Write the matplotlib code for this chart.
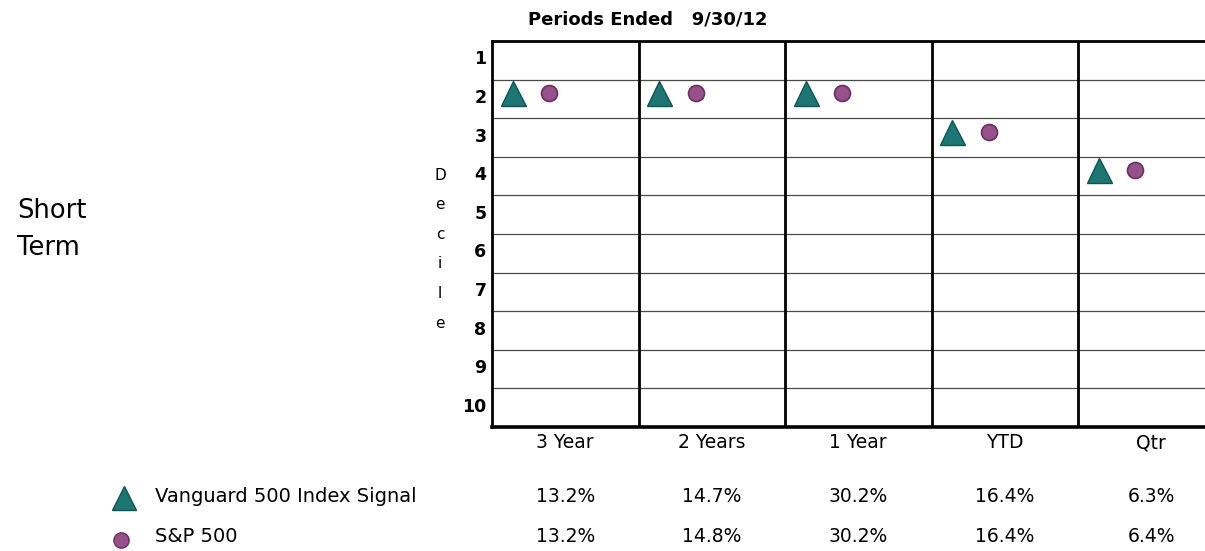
import numpy as np
import matplotlib
matplotlib.use("Agg")
import matplotlib.pyplot as plt
from matplotlib.transforms import blended_transform_factory, ScaledTranslation

# datos
periods = ["3 Year", "2 Years", "1 Year", "YTD", "Qtr"]
fund_decile = [2, 2, 2, 3, 4]
sp_decile = [2, 2, 2, 3, 4]
fund_returns = ["13.2%", "14.7%", "30.2%", "16.4%", "6.3%"]
sp_returns = ["13.2%", "14.8%", "30.2%", "16.4%", "6.4%"]
deciles = list(range(1, 11))
fund_name = "Vanguard 500 Index Signal"
bench_name = "S&P 500"

TEAL = "#1d7673"
TEAL_EDGE = "#105451"
PURPLE = "#96508a"
PURPLE_EDGE = "#6a2f60"

W, H = 1205, 551
fig = plt.figure(figsize=(W / 100, H / 100), dpi=100)

# eje en pixeles
left, right, top, bottom = 492, 1205, 41, 427
ax = fig.add_axes([left / W, 1 - bottom / H, (right - left) / W, (bottom - top) / H])

col_w = 146.5
ax.set_xlim(0, (right - left) / col_w)
ax.set_ylim(10.5, 0.5)

# los simbolos van un poco por encima del centro de la fila
lift = ScaledTranslation(0, 6 / 100, fig.dpi_scale_trans)
x = np.arange(len(periods))
ax.plot(x + 0.14, fund_decile, linestyle="none", marker="^", markersize=18,
        markerfacecolor=TEAL, markeredgecolor=TEAL_EDGE, markeredgewidth=1,
        zorder=5, transform=ax.transData + lift)
ax.plot(x + 0.39, sp_decile, linestyle="none", marker="o", markersize=11.5,
        markerfacecolor=PURPLE, markeredgecolor=PURPLE_EDGE, markeredgewidth=1.2,
        zorder=5, transform=ax.transData + lift)

# lineas de la cuadricula
for yb in np.arange(1.5, 10.5, 1.0):
    ax.axhline(yb, color="#4a4a4a", lw=0.9, zorder=1)
for xb in range(1, len(periods)):
    ax.axvline(xb, color="black", lw=2, zorder=2)

ax.spines["right"].set_visible(False)
for s in ("top", "left"):
    ax.spines[s].set_linewidth(2)
ax.spines["bottom"].set_linewidth(2.6)

ax.set_yticks(deciles)
ax.set_yticklabels([str(d) for d in deciles], fontsize=12.5, fontweight="bold")
ax.tick_params(axis="y", length=0, pad=4)
for lab in ax.get_yticklabels():
    lab.set_transform(lab.get_transform() + ScaledTranslation(0, 3 / 100, fig.dpi_scale_trans))
ax.set_xticks([])

# titulo
fig.text(528 / W, 1 - 20 / H, "Periods Ended   9/30/12", fontsize=13,
         fontweight="bold", ha="left", va="center")

# "Decile" vertical
for i, ch in enumerate("Decile"):
    fig.text(440 / W, 1 - (175 + i * 29.6) / H, ch, fontsize=11,
             ha="center", va="center")

fig.text(17 / W, 1 - 211 / H, "Short", fontsize=18.5, ha="left", va="center")
fig.text(17 / W, 1 - 248 / H, "Term", fontsize=18.5, ha="left", va="center")

# etiquetas de columnas y tabla
tr = blended_transform_factory(ax.transData, fig.transFigure)
for i, p in enumerate(periods):
    ax.text(i + 0.5, 1 - 443 / H, p, transform=tr, fontsize=13.5,
            ha="center", va="center", clip_on=False)
    ax.text(i + 0.5, 1 - 497 / H, fund_returns[i], transform=tr, fontsize=13.5,
            ha="center", va="center", clip_on=False)
    ax.text(i + 0.5, 1 - 537 / H, sp_returns[i], transform=tr, fontsize=13.5,
            ha="center", va="center", clip_on=False)

# leyenda manual
fig.lines.append(plt.Line2D([124 / W], [1 - 498 / H], transform=fig.transFigure,
                            marker="^", markersize=17, linestyle="none",
                            markerfacecolor=TEAL, markeredgecolor=TEAL_EDGE))
fig.lines.append(plt.Line2D([121 / W], [1 - 540 / H], transform=fig.transFigure,
                            marker="o", markersize=11, linestyle="none",
                            markerfacecolor=PURPLE, markeredgecolor=PURPLE_EDGE))
fig.text(155 / W, 1 - 497 / H, fund_name, fontsize=14, ha="left", va="center")
fig.text(155 / W, 1 - 537 / H, bench_name, fontsize=14, ha="left", va="center")

fig.savefig("out.png", dpi=100)
